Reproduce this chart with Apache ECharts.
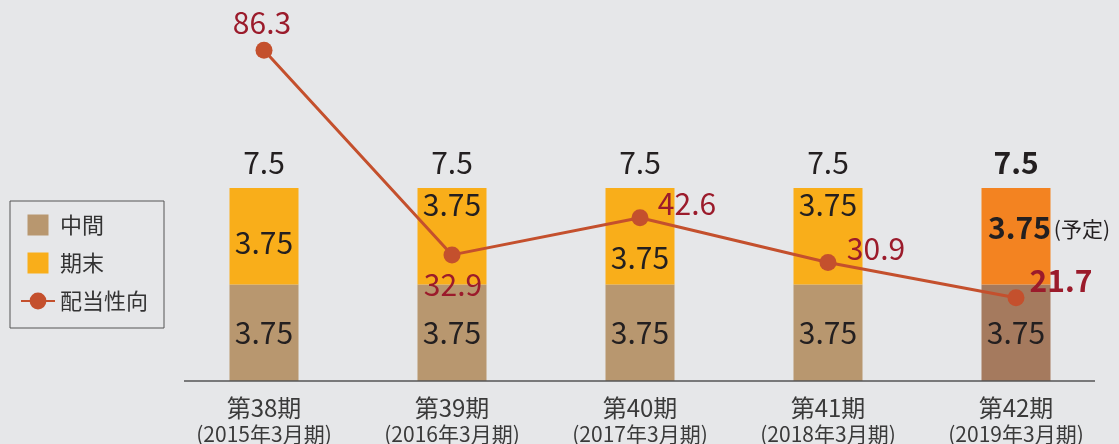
<!DOCTYPE html>
<html>
<head>
<meta charset="utf-8">
<script src="https://cdn.jsdelivr.net/npm/echarts@6/dist/echarts.min.js"></script>
<style>
html, body { margin: 0; padding: 0; background: #e6e7e9; }
#dividend { width: 1119px; height: 444px; }
</style>
</head>
<body>
<div id="dividend"></div>
<script>
var categories = ['第38期', '第39期', '第40期', '第41期', '第42期'];
var periods = ['(2015年3月期)', '(2016年3月期)', '(2017年3月期)', '(2018年3月期)', '(2019年3月期)'];
var interim = [3.75, 3.75, 3.75, 3.75, 3.75];
var yearEnd = [3.75, 3.75, 3.75, 3.75, 3.75];
var totals = [7.5, 7.5, 7.5, 7.5, 7.5];
var payoutRatio = [86.3, 32.9, 42.6, 30.9, 21.7];

// label nudges so the numbers don't collide with the line
var yearEndLabelDy = [6, -32, 21, -32, -9];
var ratioLabelOffset = [[-2, -28], [1, 30], [47, -14], [48, -14], [45, -17]];

var FONT = '"Noto Sans CJK JP", "Noto Sans", sans-serif';
var last = categories.length - 1;

var myChart = echarts.init(document.getElementById('dividend'));

var option = {
    backgroundColor: '#e6e7e9',
    textStyle: { fontFamily: FONT },
    grid: { left: 170, right: 9, top: 0, bottom: 63, outerBoundsMode: 'none' },
    legend: {
        orient: 'vertical',
        left: 10,
        top: 201,
        padding: [13, 16, 16, 10],
        borderColor: '#555',
        borderWidth: 1,
        itemWidth: 34,
        itemHeight: 21,
        itemGap: 16,
        textStyle: { fontSize: 22, color: '#333', fontFamily: FONT },
        data: [
            { name: '中間', icon: 'path://M0 0h10v10h-10z' },
            { name: '期末', icon: 'path://M0 0h10v10h-10z' },
            { name: '配当性向' }
        ]
    },
    xAxis: {
        type: 'category',
        data: categories,
        axisLine: { show: false },
        axisTick: { show: false },
        axisLabel: {
            margin: 13,
            formatter: function (v, i) {
                return '{a|' + v + '}\n{b|' + periods[i] + '}';
            },
            rich: {
                a: { fontSize: 24, color: '#3a3a3a', lineHeight: 28, fontFamily: FONT },
                b: { fontSize: 21, color: '#3a3a3a', lineHeight: 24, fontFamily: FONT }
            }
        }
    },
    yAxis: [
        { type: 'value', min: 0, max: 14.8, show: false, splitLine: { show: false } },
        { type: 'value', min: 0, max: 99.4, show: false, splitLine: { show: false } }
    ],
    graphic: [{
        type: 'line',
        shape: { x1: 184, y1: 381, x2: 1095, y2: 381 },
        style: { stroke: '#555', lineWidth: 1.5 },
        z: 10
    }],
    series: [
        {
            name: '中間',
            type: 'bar',
            stack: 'div',
            barWidth: 69,
            itemStyle: { color: '#b8976f' },
            label: {
                show: true,
                position: 'inside',
                fontSize: 30,
                color: '#231f20',
                fontFamily: FONT
            },
            data: interim.map(function (v, i) {
                var d = { value: v };
                if (i === last) d.itemStyle = { color: '#a57a5e' };
                return d;
            })
        },
        {
            name: '期末',
            type: 'bar',
            stack: 'div',
            barWidth: 69,
            itemStyle: { color: '#f9ae1a' },
            label: {
                show: true,
                position: 'inside',
                fontSize: 30,
                color: '#231f20',
                fontFamily: FONT
            },
            data: yearEnd.map(function (v, i) {
                var d = { value: v, label: { offset: [0, yearEndLabelDy[i]] } };
                if (i === last) {
                    d.itemStyle = { color: '#f38321' };
                    d.label = {
                        offset: [33, yearEndLabelDy[i]],
                        formatter: '{n|' + v + '}{s|(予定)}',
                        rich: {
                            n: { fontSize: 30, fontWeight: 'bold', color: '#231f20', fontFamily: FONT },
                            s: { fontSize: 21, color: '#231f20', fontFamily: FONT, padding: [3, 0, 0, 3] }
                        }
                    };
                }
                return d;
            })
        },
        {
            name: '合計',
            type: 'line',
            data: totals.map(function (v, i) {
                var d = { value: v };
                if (i === last) d.label = { fontWeight: 'bold' };
                return d;
            }),
            symbol: 'circle',
            symbolSize: 0,
            showSymbol: true,
            lineStyle: { opacity: 0 },
            silent: true,
            label: {
                show: true,
                position: 'top',
                distance: 10,
                fontSize: 30,
                color: '#231f20',
                fontFamily: FONT
            },
            z: 1
        },
        {
            name: '配当性向',
            type: 'line',
            yAxisIndex: 1,
            symbol: 'circle',
            symbolSize: 17,
            itemStyle: { color: '#c4502d' },
            lineStyle: { color: '#c4502d', width: 3 },
            label: {
                show: true,
                position: 'inside',
                fontSize: 30,
                color: '#9b1b2b',
                fontFamily: FONT
            },
            data: payoutRatio.map(function (v, i) {
                var d = { value: v, label: { offset: ratioLabelOffset[i] } };
                if (i === last) d.label.fontWeight = 'bold';
                return d;
            }),
            z: 5
        }
    ]
};

myChart.setOption(option);
</script>
</body>
</html>
